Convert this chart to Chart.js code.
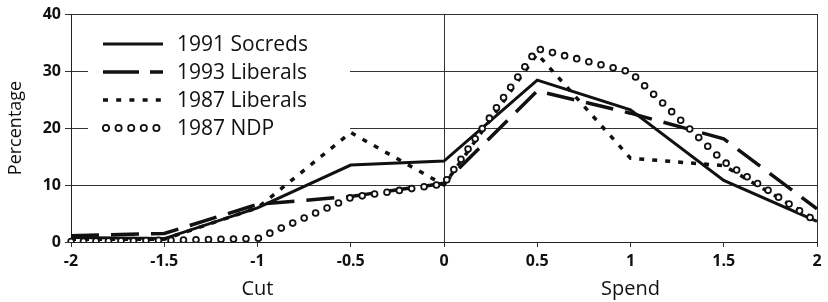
<!DOCTYPE html>
<html><head><meta charset="utf-8">
<script src="https://cdn.jsdelivr.net/npm/chart.js@4.4.1/dist/chart.umd.min.js"></script>
<style>html,body{margin:0;padding:0;background:#fff;}#wrap{width:828px;height:302px;}</style>
</head><body><div id="wrap"><canvas id="c" width="828" height="302"></canvas></div>
<script>
const categories = ['-2','-1.5','-1','-0.5','0','0.5','1','1.5','2'];
const groupLabels = ['Cut','Spend'];
const groupAt = ['-1','1'];
const yTicks = [0,10,20,30,40];
const seriesNames = ['1991 Socreds','1993 Liberals','1987 Liberals','1987 NDP'];
const socreds1991 = [0.8,0.6,6.0,13.5,14.2,28.4,23.2,10.8,3.6];
const liberals1993 = [1.1,1.5,6.6,8.0,10.3,26.5,22.6,18.1,5.8];
const liberals1987 = [0.5,0.5,6.0,19.2,10.0,33.0,14.7,13.4,3.8];
const ndp1987 = [0.1,0.3,0.6,7.8,10.2,33.9,29.8,14.1,3.5];

const FONT = '"Open Sans", "DejaVu Sans", sans-serif';
const INK = '#111';

const framePlugin = {
  id: 'frame',
  beforeDatasetsDraw(chart) {
    const {ctx, chartArea: a} = chart;
    ctx.save();
    ctx.fillStyle = '#fff';
    ctx.fillRect(88, 24, 262, 115);
    ctx.strokeStyle = '#333';
    ctx.lineWidth = 1;
    ctx.beginPath();
    const r = Math.round(a.right) + 0.5;
    ctx.moveTo(r, a.top); ctx.lineTo(r, a.bottom);
    ctx.stroke();
    ctx.restore();
  },
  afterDatasetsDraw(chart) {
    const {ctx} = chart;
    ctx.save();
    const rows = [44, 72, 100, 128];
    const x0 = 103, x1 = 163;
    ctx.strokeStyle = INK;
    ctx.lineCap = 'butt';
    ctx.lineWidth = 3; ctx.setLineDash([]);
    ctx.beginPath(); ctx.moveTo(x0, rows[0]); ctx.lineTo(x1, rows[0]); ctx.stroke();
    ctx.lineWidth = 3.5; ctx.setLineDash([36, 11]);
    ctx.beginPath(); ctx.moveTo(x0, rows[1]); ctx.lineTo(x1, rows[1]); ctx.stroke();
    ctx.lineWidth = 3.5; ctx.setLineDash([5, 8.2]);
    ctx.beginPath(); ctx.moveTo(x0, rows[2]); ctx.lineTo(x1, rows[2]); ctx.stroke();
    ctx.setLineDash([]); ctx.lineWidth = 1.8;
    for (let i = 0; i < 5; i++) {
      ctx.beginPath(); ctx.arc(106 + i * 12.6, rows[3], 3.1, 0, Math.PI * 2); ctx.stroke();
    }
    ctx.fillStyle = INK;
    ctx.font = '21px ' + FONT;
    ctx.textAlign = 'left'; ctx.textBaseline = 'middle';
    seriesNames.forEach((n, i) => ctx.fillText(n, 177, rows[i] + 1));
    ctx.restore();
  },
  afterDraw(chart) {
    const {ctx} = chart;
    const xs = chart.scales.x;
    ctx.save();
    ctx.fillStyle = INK;
    ctx.font = '20px ' + FONT;
    ctx.textAlign = 'center'; ctx.textBaseline = 'middle';
    groupLabels.forEach((g, i) => {
      const px = xs.getPixelForValue(categories.indexOf(groupAt[i]));
      ctx.fillText(g, px, 289);
    });
    ctx.restore();
  }
};

const lineBase = {fill: false, pointRadius: 0, pointHoverRadius: 0, tension: 0, borderColor: INK};

new Chart(document.getElementById('c'), {
  type: 'line',
  data: {
    labels: categories,
    datasets: [
      Object.assign({}, lineBase, {label: seriesNames[0], data: socreds1991, borderWidth: 3, order: 2}),
      Object.assign({}, lineBase, {label: seriesNames[1], data: liberals1993, borderWidth: 3.5, borderDash: [28, 12], order: 3}),
      Object.assign({}, lineBase, {label: seriesNames[2], data: liberals1987, borderWidth: 3.5, borderDash: [5, 8], order: 4}),
      Object.assign({}, lineBase, {label: seriesNames[3], data: ndp1987, borderWidth: 7.6, borderDash: [0, 12.5], borderCapStyle: 'round', order: 1}),
      Object.assign({}, lineBase, {label: seriesNames[3] + ' fill', data: ndp1987, borderColor: '#fff', borderWidth: 4.0, borderDash: [0, 12.5], borderCapStyle: 'round', order: 0})
    ]
  },
  options: {
    responsive: false,
    animation: false,
    devicePixelRatio: 1,
    layout: {padding: {top: 14, right: 11, left: 0, bottom: 0}},
    plugins: {legend: {display: false}, tooltip: {enabled: false}},
    scales: {
      x: {
        type: 'category',
        offset: false,
        grid: {
          color: c => (c.index === categories.indexOf('0') ? '#333' : 'rgba(0,0,0,0)'),
          tickColor: '#333',
          tickLength: 5,
          lineWidth: 1
        },
        border: {color: '#222', width: 1},
        ticks: {font: {family: FONT, size: 16, weight: 'bold'}, color: INK, padding: 5, maxRotation: 0, autoSkip: false},
        afterFit: s => { s.height = 60; }
      },
      y: {
        min: 0, max: 40,
        afterBuildTicks: s => { s.ticks = yTicks.map(v => ({value: v})); },
        grid: {color: '#333', tickColor: '#333', tickLength: 6, lineWidth: 1},
        border: {color: '#222', width: 1},
        ticks: {font: {family: FONT, size: 16, weight: 'bold'}, color: INK, padding: 4},
        title: {display: true, text: 'Percentage', font: {family: FONT, size: 18}, color: INK, padding: {top: 5, bottom: 0}},
        afterFit: s => { s.width = 71; }
      }
    }
  },
  plugins: [framePlugin]
});
</script></body></html>
